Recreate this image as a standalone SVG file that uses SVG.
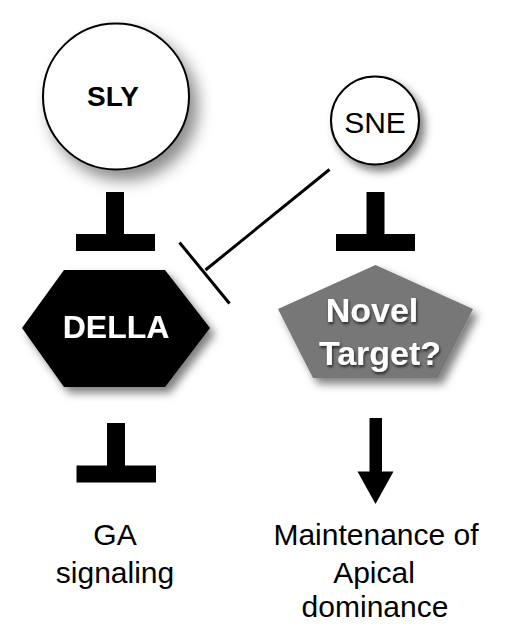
<svg xmlns="http://www.w3.org/2000/svg" width="510" height="639" viewBox="0 0 510 639">
<defs>
<filter id="shBig" x="-40%" y="-40%" width="190%" height="190%">
<feDropShadow dx="8" dy="10" stdDeviation="8" flood-color="#000" flood-opacity="0.45"/>
</filter>
<filter id="shSm" x="-40%" y="-40%" width="190%" height="190%">
<feDropShadow dx="5" dy="6" stdDeviation="4" flood-color="#000" flood-opacity="0.5"/>
</filter>
<filter id="shTxt" x="-20%" y="-30%" width="140%" height="160%">
<feDropShadow dx="1" dy="2" stdDeviation="1.5" flood-color="#000" flood-opacity="0.7"/>
</filter>
</defs>
<style>
.node{stroke:#000;stroke-width:2;fill:#fff}
.bar{fill:#000}
.lbl{font-family:"Liberation Sans",Arial,sans-serif;text-anchor:middle;fill:#000}
.b{font-weight:bold}
.w{fill:#fff}
.conn{stroke:#000;stroke-width:3;fill:none}
</style>
<rect width="510" height="639" fill="#fff"/>
<g id="SLY">
<circle class="node" cx="116" cy="96.5" r="73" filter="url(#shBig)"/>
<text class="lbl b" x="113" y="106" font-size="28">SLY</text>
</g>
<g id="SNE">
<circle class="node" cx="375" cy="120.5" r="44" filter="url(#shSm)"/>
<text class="lbl" x="375" y="133" font-size="30">SNE</text>
</g>
<g id="DELLA">
<polygon points="64,270 165,270 210,328 165,387 64,387 22,328" fill="#000" filter="url(#shSm)"/>
<text class="lbl b w" x="116" y="338" font-size="32" filter="url(#shTxt)">DELLA</text>
</g>
<g id="NovelTarget">
<polygon points="375.5,265 473,309 438,378 313,378 278,309" fill="#777" filter="url(#shSm)"/>
<text class="lbl b w" x="372" y="322" font-size="34" filter="url(#shTxt)">Novel</text>
<text class="lbl b w" x="380" y="365" font-size="34" filter="url(#shTxt)">Target?</text>
</g>
<g id="GA">
<text class="lbl" x="115" y="545" font-size="30">GA</text>
<text class="lbl" x="115" y="583" font-size="30">signaling</text>
</g>
<g id="Apical">
<text class="lbl" x="376" y="545" font-size="30">Maintenance of</text>
<text class="lbl" x="374" y="583" font-size="30">Apical</text>
<text class="lbl" x="375" y="617" font-size="30">dominance</text>
</g>
<g id="connectors">
<rect class="bar" x="106" y="192" width="18" height="43"/>
<rect class="bar" x="76" y="234" width="79" height="17"/>
<rect class="bar" x="366.5" y="192" width="18" height="43"/>
<rect class="bar" x="336" y="234" width="79" height="17"/>
<line class="conn" x1="329.5" y1="169.5" x2="205.5" y2="270"/>
<line class="conn" x1="179.5" y1="242.5" x2="229.5" y2="303.5"/>
<rect class="bar" x="107" y="423" width="18" height="43"/>
<rect class="bar" x="76.5" y="465.5" width="79.5" height="17"/>
<rect class="bar" x="369.5" y="418" width="12.5" height="54"/>
<polygon class="bar" points="357.5,471.5 393.5,471.5 375.5,504"/>
</g>
</svg>
